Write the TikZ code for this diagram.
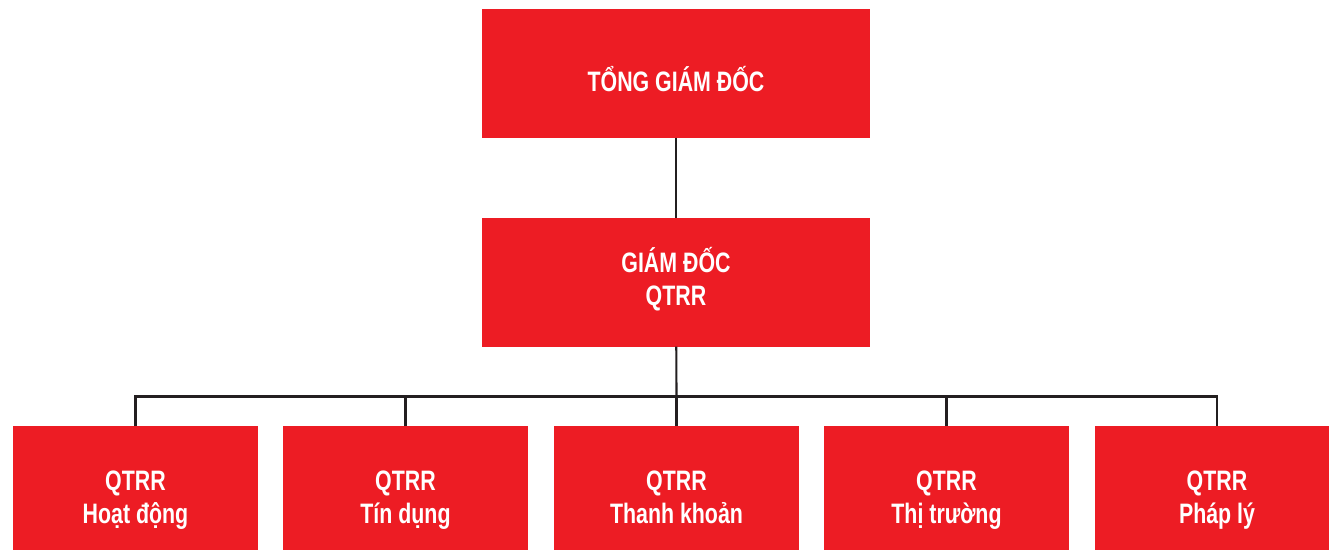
\documentclass[tikz,border=0pt]{standalone}
\usepackage{fontspec}
\usepackage{xcolor}
\newfontfamily\boxfont[FakeStretch=0.76]{Liberation Sans}
\definecolor{boxred}{HTML}{ED1C24}
\definecolor{linegray}{HTML}{231F20}
% fixed line heights so every box sets its text at the same place
\newcommand\twolines[2]{\smash{#1}\rule{0pt}{12pt}\\\smash{#2}\rule[-4.5pt]{0pt}{0pt}}
\tikzset{
  bigbox/.style={fill=boxred,text=white,inner sep=0pt,outer sep=0pt,align=center,
    minimum width=221pt,minimum height=73pt,font=\boxfont\bfseries\fontsize{16}{18.7}\selectfont},
  unitbox/.style={fill=boxred,text=white,inner sep=0pt,outer sep=0pt,align=center,
    minimum width=139pt,minimum height=84pt,font=\boxfont\bfseries\fontsize{16}{18.7}\selectfont},
  link/.style={draw=linegray,line width=1.2pt}
}

\begin{document}
\begin{tikzpicture}[x=0.02cm,y=-0.02cm]
\clip (0,0) rectangle (1329,550);
% boxes
\node[bigbox] (tgd) at (676,73.5) {\smash{TỔNG GIÁM ĐỐC}\rule{0pt}{21pt}};
\node[bigbox] (gd) at (676,282.5) {\twolines{GIÁM ĐỐC}{QTRR}};
\node[unitbox] (hd) at (135.5,500) {\twolines{QTRR}{Hoạt động}};
\node[unitbox] (td) at (405.5,500) {\twolines{QTRR}{Tín dụng}};
\node[unitbox] (tk) at (676.5,500) {\twolines{QTRR}{Thanh khoản}};
\node[unitbox] (tt) at (946.5,500) {\twolines{QTRR}{Thị trường}};
\node[unitbox] (pl) at (1217,500) {\twolines{QTRR}{Pháp lý}};
% connectors
\coordinate (bus) at (676.5,396.5);
\draw[link] (tgd) -- (gd);
\draw[link] (gd) -- (bus);
\draw[link] (hd.north) -- (hd.north |- bus) -- (pl.north |- bus) -- (pl.north);
\draw[link] (td.north) -- (td.north |- bus);
\draw[link] (tk.north) -- (bus);
\draw[link] (tt.north) -- (tt.north |- bus);
\end{tikzpicture}
\end{document}
